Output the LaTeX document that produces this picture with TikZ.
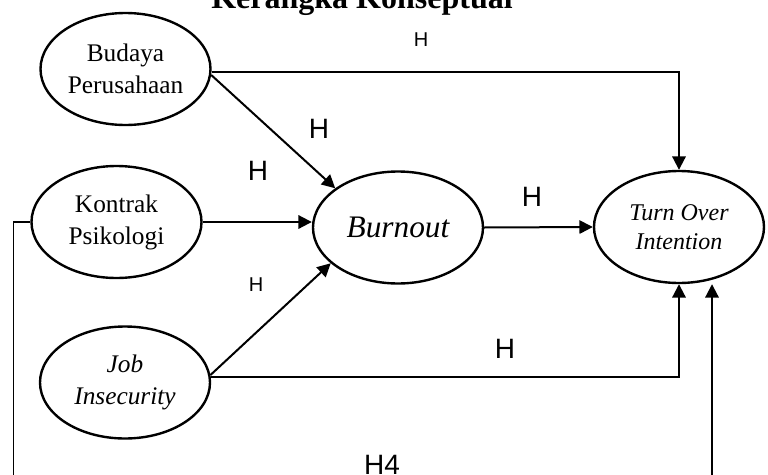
\documentclass[tikz,border=0pt]{standalone}
\usepackage{fontspec}
\setmainfont{Liberation Serif}
\newfontfamily\arialfont{Liberation Sans}
\usetikzlibrary{arrows.meta,positioning,shapes.geometric}

\begin{document}
\begin{tikzpicture}[x=0.75pt, y=-0.75pt,
    var/.style={draw, ellipse, line width=1.8pt, minimum width=127.5pt, minimum height=84pt,
        inner sep=0pt, align=center, font=\fontsize{19}{24}\selectfont},
    hbig/.style={font=\arialfont\fontsize{21}{21}\selectfont, inner sep=0pt},
    hsmall/.style={font=\arialfont\fontsize{15}{15}\selectfont, inner sep=0pt},
    link/.style={line width=1.5pt, -{Triangle[length=10pt, width=10pt]}}]
    \useasboundingbox (0,0) rectangle (768,475);
    \clip (0,0) rectangle (768,475);

    % Title (cut at the top)
    \node[anchor=base, font=\bfseries\fontsize{24}{24}\selectfont] (title) at (362,8) {Kerangka Konseptual};

    % Variables
    \node[var] (bud) at (125.5,69) {Budaya\\Perusahaan};
    \node[var] (kon) at (116.5,222) {Kontrak\\Psikologi};
    \node[var, font=\itshape\fontsize{19}{24}\selectfont] (job) at (125,382.5) {Job\\Insecurity};
    \node[var, font=\itshape\fontsize{23.5}{28}\selectfont] (burn) at (398,227.5) {Burnout};
    \node[var, font=\itshape\fontsize{18}{22}\selectfont] (toi) at (679,227) {Turn Over\\Intention};

    % Paths
    \draw[link] (bud.-2) -| (toi.north);
    \draw[link] (bud.-4) -- (burn.148);
    \draw[link] (kon.east) -- (burn.west |- kon.east);
    \draw[link] (job.5) -- (burn.208);
    \draw[link] (job.4) -| (toi.south);
    \draw[link] (burn.east) -- (toi.west);

    % H4 path (runs off the bottom)
    \coordinate (kbot) at (13.5,480);
    \coordinate (rbot) at (712,480);
    \draw[line width=1pt] (kon.west) -| (kbot);
    \draw[link] (rbot) -- (rbot |- toi.south);

    % Hypothesis labels
    \node[hsmall] (h1) at (421,40) {H};
    \node[hbig] (h2) at (319,129) {H};
    \node[hbig] (h3) at (258,171) {H};
    \node[hsmall] (h5) at (256,285) {H};
    \node[hbig] (h6) at (532,197) {H};
    \node[hbig] (h7) at (505,349) {H};
    \node[hbig] (h4) at (382,465) {H4};
\end{tikzpicture}
\end{document}
